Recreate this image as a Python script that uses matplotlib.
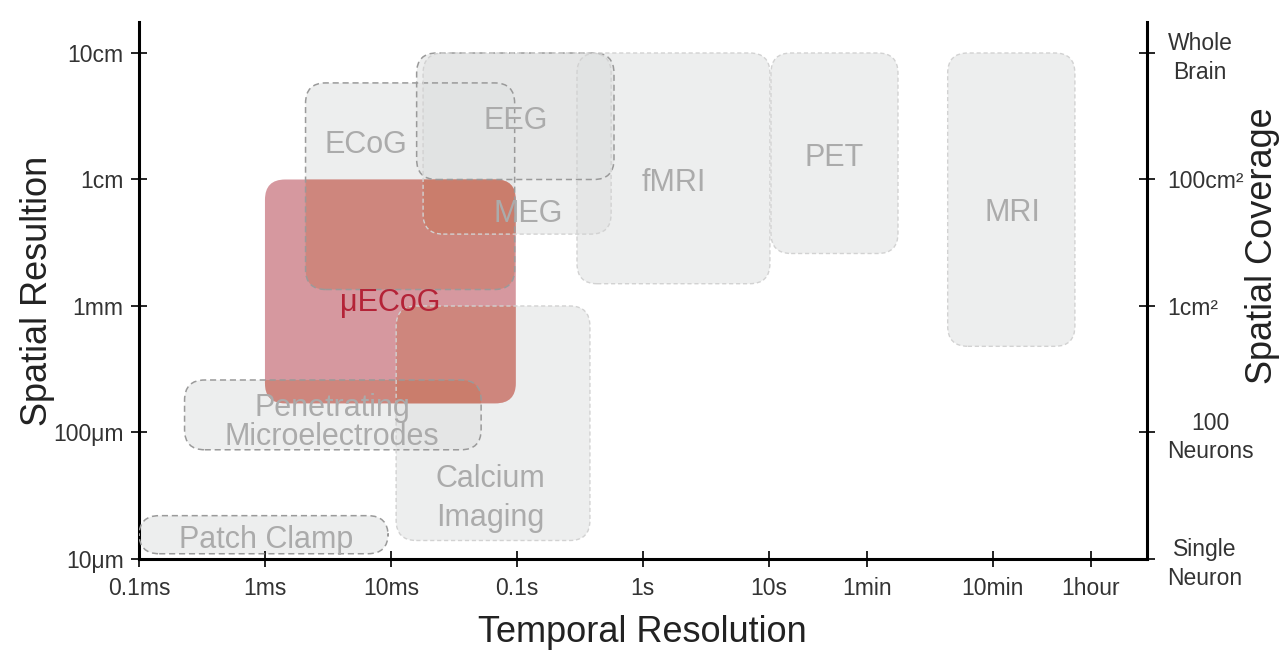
import numpy as np
import matplotlib
matplotlib.use('Agg')
import matplotlib.pyplot as plt
from matplotlib.patches import FancyBboxPatch

plt.rcParams['font.family'] = ['Liberation Sans', 'DejaVu Sans']

# recording methods: temporal range (s) and spatial range (m)
methods = ['Patch Clamp', 'Penetrating\nMicroelectrodes', 'Calcium\nImaging', 'ECoG',
           'EEG', 'MEG', 'fMRI', 'PET', 'MRI']
t_lo = [1e-4, 2.3e-4, 0.011, 2.1e-3, 0.016, 0.018, 0.30, 10.4, 263]
t_hi = [9.5e-3, 0.052, 0.38, 0.096, 0.59, 0.56, 10.2, 106, 2690]
s_lo = [1.1e-5, 7.3e-5, 1.4e-5, 1.35e-3, 1e-2, 3.7e-3, 1.5e-3, 2.6e-3, 4.8e-4]
s_hi = [2.2e-5, 2.6e-4, 1e-3, 5.8e-2, 0.1, 0.1, 0.1, 0.1, 0.1]
# where the names are written (s, m)
name_t = [1.02e-3, 3.4e-3, 0.062, 6.3e-3, 0.098, 0.122, 1.76, 32.8, 865]
name_s = [1.4e-5, 1.2e-4, 3.0e-5, 0.0186, 0.0292, 5.3e-3, 9.3e-3, 0.01466, 5.4e-3]

# the highlighted method
uecog_t = [1e-3, 0.098]
uecog_s = [1.7e-4, 1e-2]
uecog_name = (9.8e-3, 1.05e-3)

x_ticks = [1e-4, 1e-3, 1e-2, 0.1, 1, 10, 60, 600, 3600]
x_labels = ['0.1ms', '1ms', '10ms', '0.1s', '1s', '10s', '1min', '10min', '1hour']
y_ticks = [1e-5, 1e-4, 1e-3, 1e-2, 1e-1]
y_labels = ['10μm', '100μm', '1mm', '1cm', '10cm']
cov_labels = ['Single\nNeuron', '100\nNeurons', '1cm²', '100cm²', 'Whole\nBrain']

strong = ['Patch Clamp', 'Penetrating\nMicroelectrodes', 'ECoG', 'EEG']

fig = plt.figure(figsize=(12.87, 6.55), dpi=100)
ax = fig.add_axes([0.108, 0.1466, 0.783, 0.8198])
lg = np.log10
R = 'round,pad=0,rounding_size=0.16'


def box(t0, t1, s0, s1, **kw):
    p = FancyBboxPatch((lg(t0), lg(s0)), lg(t1) - lg(t0), lg(s1) - lg(s0), boxstyle=R, **kw)
    ax.add_patch(p)
    return p


# gray method boxes
for i, m in enumerate(methods):
    box(t_lo[i], t_hi[i], s_lo[i], s_hi[i], facecolor='#dfe1e1', alpha=0.55,
        edgecolor='none', zorder=1)

# uECoG box and its overlaps with the other methods
red = box(uecog_t[0], uecog_t[1], uecog_s[0], uecog_s[1], facecolor='#d6989f',
          edgecolor='none', zorder=2)
for i, m in enumerate(methods):
    p = box(t_lo[i], t_hi[i], s_lo[i], s_hi[i], facecolor='#c8765c', alpha=0.5,
            edgecolor='none', zorder=3)
    p.set_clip_path(red)

# dashed outlines
for i, m in enumerate(methods):
    if m in strong:
        box(t_lo[i], t_hi[i], s_lo[i], s_hi[i], fill=False, edgecolor='#9a9a9a',
            linewidth=1.1, linestyle=(0, (4, 2.5)), zorder=4)
    else:
        box(t_lo[i], t_hi[i], s_lo[i], s_hi[i], fill=False, edgecolor='#d2d2d2',
            linewidth=1.0, linestyle=(0, (3, 2)), zorder=4)

for i, m in enumerate(methods):
    ls = 0.95 if m.startswith('Penetrating') else 1.4
    ax.text(lg(name_t[i]), lg(name_s[i]), m, ha='center', va='center', fontsize=22,
            color='#ababab', linespacing=ls, zorder=5)
ax.text(lg(uecog_name[0]), lg(uecog_name[1]), 'μECoG', ha='center', va='center',
        fontsize=22, color='#b42337', zorder=5)

ax.set_xlim(-4, 4)
ax.set_ylim(-5, -0.755)
ax.set_xticks(lg(x_ticks), x_labels)
ax.set_yticks(lg(y_ticks), y_labels)
ax.tick_params(direction='inout', length=12, width=1.2, labelsize=16.5,
               labelcolor='#333333', pad=5)
ax.tick_params(axis='x', pad=7)
for s in ['top', 'right']:
    ax.spines[s].set_visible(False)
for s in ['left', 'bottom']:
    ax.spines[s].set_linewidth(2.2)

ax2 = ax.twinx()
ax2.set_ylim(ax.get_ylim())
ax2.set_yticks(lg(y_ticks), cov_labels)
ax2.tick_params(direction='inout', length=12, width=1.2, labelsize=16.5,
                labelcolor='#333333', pad=9)
for lab in ax2.get_yticklabels():
    lab.set_multialignment('center')
    lab.set_linespacing(1.3)
for s in ['top', 'left', 'bottom']:
    ax2.spines[s].set_visible(False)
ax2.spines['right'].set_linewidth(2.2)

ax.set_xlabel('Temporal Resolution', fontsize=26, color='#222222')
ax.set_ylabel('Spatial Resultion', fontsize=26, color='#222222')
ax2.set_ylabel('Spatial Coverage', fontsize=26, color='#222222')
ax.xaxis.set_label_coords(0.5, -0.136)
ax.xaxis.label.set_va('center')
ax.yaxis.set_label_coords(-0.1005, 0.5)
ax.yaxis.label.set_va('center')
ax2.yaxis.set_label_coords(1.115, 0.583)
ax2.yaxis.label.set_va('center')

fig.savefig('out.png', dpi=100)
